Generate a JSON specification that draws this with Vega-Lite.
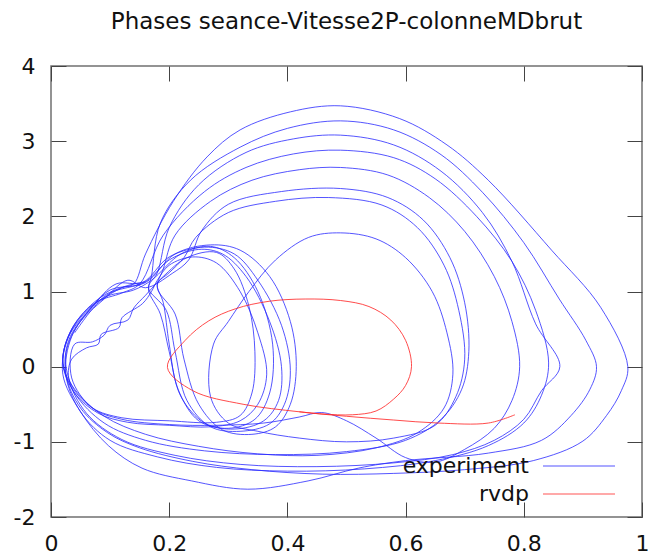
{
  "$schema": "https://vega.github.io/schema/vega-lite/v6.json",
  "width": 591,
  "height": 451,
  "autosize": {"type": "none"},
  "padding": {"left": 51, "top": 66, "right": 6, "bottom": 40},
  "background": "white",
  "title": {"text": "Phases seance-Vitesse2P-colonneMDbrut", "fontSize": 23, "font": "DejaVu Sans", "fontWeight": "normal", "color": "#111", "offset": -2, "baseline": "bottom"},
  "datasets": {
    "exp": [
      {"s":"experiment","i":1,"x":0.04,"y":0.45},{"s":"experiment","i":2,"x":0.08,"y":0.85},{"s":"experiment","i":3,"x":0.12,"y":1.05},
      {"s":"experiment","i":4,"x":0.14,"y":1.1},{"s":"experiment","i":5,"x":0.16,"y":1.5},{"s":"experiment","i":6,"x":0.207,"y":2.2},{"s":"experiment","i":7,"x":0.264,"y":2.79},{"s":"experiment","i":8,"x":0.32,"y":3.15},{"s":"experiment","i":9,"x":0.405,"y":3.39},{"s":"experiment","i":10,"x":0.49,"y":3.47},{"s":"experiment","i":11,"x":0.59,"y":3.3},{"s":"experiment","i":12,"x":0.67,"y":2.95},{"s":"experiment","i":13,"x":0.74,"y":2.48},{"s":"experiment","i":14,"x":0.847,"y":1.55},{"s":"experiment","i":15,"x":0.93,"y":0.79},{"s":"experiment","i":16,"x":0.976,"y":0.0},{"s":"experiment","i":17,"x":0.965,"y":-0.32},{"s":"experiment","i":18,"x":0.94,"y":-0.65},{"s":"experiment","i":19,"x":0.9,"y":-0.99},{"s":"experiment","i":20,"x":0.816,"y":-1.25},{"s":"experiment","i":21,"x":0.7,"y":-1.37},{"s":"experiment","i":22,"x":0.58,"y":-1.42},{"s":"experiment","i":23,"x":0.46,"y":-1.43},{"s":"experiment","i":24,"x":0.34,"y":-1.37},{"s":"experiment","i":25,"x":0.24,"y":-1.26},{"s":"experiment","i":26,"x":0.15,"y":-1.08},{"s":"experiment","i":27,"x":0.096,"y":-0.88},{"s":"experiment","i":28,"x":0.05,"y":-0.55},{"s":"experiment","i":29,"x":0.025,"y":-0.1},{"s":"experiment","i":30,"x":0.03,"y":0.35},{"s":"experiment","i":31,"x":0.065,"y":0.75},{"s":"experiment","i":32,"x":0.1,"y":0.98},
      {"s":"experiment","i":33,"x":0.16,"y":1.13},{"s":"experiment","i":34,"x":0.2,"y":1.42},{"s":"experiment","i":35,"x":0.25,"y":1.56},{"s":"experiment","i":36,"x":0.29,"y":1.5},{"s":"experiment","i":37,"x":0.33,"y":1.2},{"s":"experiment","i":38,"x":0.37,"y":0.6},{"s":"experiment","i":39,"x":0.39,"y":0.0},{"s":"experiment","i":40,"x":0.385,"y":-0.45},{"s":"experiment","i":41,"x":0.36,"y":-0.72},{"s":"experiment","i":42,"x":0.31,"y":-0.83},{"s":"experiment","i":43,"x":0.26,"y":-0.75},{"s":"experiment","i":44,"x":0.22,"y":-0.4},{"s":"experiment","i":45,"x":0.2,"y":0.2},{"s":"experiment","i":46,"x":0.185,"y":0.7},{"s":"experiment","i":47,"x":0.165,"y":1.02},
      {"s":"experiment","i":48,"x":0.17,"y":1.2},{"s":"experiment","i":49,"x":0.185,"y":1.91},{"s":"experiment","i":50,"x":0.236,"y":2.48},{"s":"experiment","i":51,"x":0.32,"y":2.92},{"s":"experiment","i":52,"x":0.4,"y":3.17},{"s":"experiment","i":53,"x":0.49,"y":3.27},{"s":"experiment","i":54,"x":0.58,"y":3.15},{"s":"experiment","i":55,"x":0.66,"y":2.82},{"s":"experiment","i":56,"x":0.73,"y":2.32},{"s":"experiment","i":57,"x":0.8,"y":1.65},{"s":"experiment","i":58,"x":0.86,"y":0.9},{"s":"experiment","i":59,"x":0.905,"y":0.35},{"s":"experiment","i":60,"x":0.923,"y":0.0},{"s":"experiment","i":61,"x":0.912,"y":-0.3},{"s":"experiment","i":62,"x":0.88,"y":-0.65},{"s":"experiment","i":63,"x":0.83,"y":-0.98},{"s":"experiment","i":64,"x":0.74,"y":-1.15},{"s":"experiment","i":65,"x":0.6,"y":-1.25},{"s":"experiment","i":66,"x":0.52,"y":-1.35},{"s":"experiment","i":67,"x":0.435,"y":-1.52},{"s":"experiment","i":68,"x":0.333,"y":-1.63},{"s":"experiment","i":69,"x":0.238,"y":-1.52},{"s":"experiment","i":70,"x":0.154,"y":-1.35},{"s":"experiment","i":71,"x":0.097,"y":-1.05},{"s":"experiment","i":72,"x":0.05,"y":-0.6},{"s":"experiment","i":73,"x":0.02,"y":-0.1},{"s":"experiment","i":74,"x":0.03,"y":0.4},{"s":"experiment","i":75,"x":0.07,"y":0.8},{"s":"experiment","i":76,"x":0.11,"y":1.1},
      {"s":"experiment","i":77,"x":0.155,"y":1.12},{"s":"experiment","i":78,"x":0.2,"y":1.46},{"s":"experiment","i":79,"x":0.26,"y":1.59},{"s":"experiment","i":80,"x":0.31,"y":1.5},{"s":"experiment","i":81,"x":0.35,"y":1.15},{"s":"experiment","i":82,"x":0.39,"y":0.55},{"s":"experiment","i":83,"x":0.405,"y":-0.05},{"s":"experiment","i":84,"x":0.395,"y":-0.5},{"s":"experiment","i":85,"x":0.37,"y":-0.76},{"s":"experiment","i":86,"x":0.32,"y":-0.86},{"s":"experiment","i":87,"x":0.27,"y":-0.8},{"s":"experiment","i":88,"x":0.23,"y":-0.45},{"s":"experiment","i":89,"x":0.21,"y":0.2},{"s":"experiment","i":90,"x":0.195,"y":0.75},{"s":"experiment","i":91,"x":0.165,"y":1.05},
      {"s":"experiment","i":92,"x":0.18,"y":1.25},{"s":"experiment","i":93,"x":0.2,"y":1.85},{"s":"experiment","i":94,"x":0.25,"y":2.42},{"s":"experiment","i":95,"x":0.33,"y":2.85},{"s":"experiment","i":96,"x":0.41,"y":3.03},{"s":"experiment","i":97,"x":0.49,"y":3.08},{"s":"experiment","i":98,"x":0.58,"y":2.95},{"s":"experiment","i":99,"x":0.66,"y":2.6},{"s":"experiment","i":100,"x":0.73,"y":2.05},{"s":"experiment","i":101,"x":0.78,"y":1.4},{"s":"experiment","i":102,"x":0.82,"y":0.57},{"s":"experiment","i":103,"x":0.861,"y":0.0},{"s":"experiment","i":104,"x":0.83,"y":-0.32},{"s":"experiment","i":105,"x":0.8,"y":-0.7},{"s":"experiment","i":106,"x":0.75,"y":-0.98},{"s":"experiment","i":107,"x":0.68,"y":-1.17},{"s":"experiment","i":108,"x":0.58,"y":-1.28},{"s":"experiment","i":109,"x":0.45,"y":-1.33},{"s":"experiment","i":110,"x":0.32,"y":-1.3},{"s":"experiment","i":111,"x":0.21,"y":-1.18},{"s":"experiment","i":112,"x":0.12,"y":-0.97},{"s":"experiment","i":113,"x":0.06,"y":-0.62},{"s":"experiment","i":114,"x":0.03,"y":-0.15},{"s":"experiment","i":115,"x":0.035,"y":0.1},{"s":"experiment","i":116,"x":0.06,"y":0.25},{"s":"experiment","i":117,"x":0.08,"y":0.3},{"s":"experiment","i":118,"x":0.085,"y":0.43},{"s":"experiment","i":119,"x":0.115,"y":0.52},{"s":"experiment","i":120,"x":0.12,"y":0.65},{"s":"experiment","i":121,"x":0.155,"y":0.84},{"s":"experiment","i":122,"x":0.17,"y":1.0},
      {"s":"experiment","i":123,"x":0.18,"y":1.15},{"s":"experiment","i":124,"x":0.2,"y":1.35},{"s":"experiment","i":125,"x":0.24,"y":1.46},{"s":"experiment","i":126,"x":0.28,"y":1.38},{"s":"experiment","i":127,"x":0.32,"y":1.0},{"s":"experiment","i":128,"x":0.35,"y":0.45},{"s":"experiment","i":129,"x":0.365,"y":-0.1},{"s":"experiment","i":130,"x":0.35,"y":-0.5},{"s":"experiment","i":131,"x":0.32,"y":-0.72},{"s":"experiment","i":132,"x":0.27,"y":-0.8},{"s":"experiment","i":133,"x":0.2,"y":-0.78},{"s":"experiment","i":134,"x":0.13,"y":-0.74},{"s":"experiment","i":135,"x":0.08,"y":-0.62},{"s":"experiment","i":136,"x":0.04,"y":-0.35},{"s":"experiment","i":137,"x":0.02,"y":0.05},{"s":"experiment","i":138,"x":0.035,"y":0.5},{"s":"experiment","i":139,"x":0.075,"y":0.85},{"s":"experiment","i":140,"x":0.12,"y":0.98},
      {"s":"experiment","i":141,"x":0.15,"y":1.1},{"s":"experiment","i":142,"x":0.19,"y":1.75},{"s":"experiment","i":143,"x":0.26,"y":2.33},{"s":"experiment","i":144,"x":0.33,"y":2.65},{"s":"experiment","i":145,"x":0.41,"y":2.83},{"s":"experiment","i":146,"x":0.49,"y":2.88},{"s":"experiment","i":147,"x":0.58,"y":2.78},{"s":"experiment","i":148,"x":0.65,"y":2.5},{"s":"experiment","i":149,"x":0.72,"y":2.0},{"s":"experiment","i":150,"x":0.78,"y":1.4},{"s":"experiment","i":151,"x":0.82,"y":0.75},{"s":"experiment","i":152,"x":0.842,"y":0.05},{"s":"experiment","i":153,"x":0.83,"y":-0.38},{"s":"experiment","i":154,"x":0.8,"y":-0.75},{"s":"experiment","i":155,"x":0.74,"y":-1.05},{"s":"experiment","i":156,"x":0.65,"y":-1.25},{"s":"experiment","i":157,"x":0.53,"y":-1.36},{"s":"experiment","i":158,"x":0.4,"y":-1.39},{"s":"experiment","i":159,"x":0.28,"y":-1.34},{"s":"experiment","i":160,"x":0.18,"y":-1.2},{"s":"experiment","i":161,"x":0.1,"y":-0.98},{"s":"experiment","i":162,"x":0.05,"y":-0.6},{"s":"experiment","i":163,"x":0.025,"y":-0.1},{"s":"experiment","i":164,"x":0.035,"y":0.4},{"s":"experiment","i":165,"x":0.07,"y":0.8},{"s":"experiment","i":166,"x":0.1,"y":1.02},
      {"s":"experiment","i":167,"x":0.16,"y":1.12},{"s":"experiment","i":168,"x":0.21,"y":1.5},{"s":"experiment","i":169,"x":0.27,"y":1.62},{"s":"experiment","i":170,"x":0.32,"y":1.55},{"s":"experiment","i":171,"x":0.37,"y":1.2},{"s":"experiment","i":172,"x":0.405,"y":0.6},{"s":"experiment","i":173,"x":0.415,"y":0.0},{"s":"experiment","i":174,"x":0.405,"y":-0.5},{"s":"experiment","i":175,"x":0.38,"y":-0.8},{"s":"experiment","i":176,"x":0.34,"y":-0.9},{"s":"experiment","i":177,"x":0.29,"y":-0.84},{"s":"experiment","i":178,"x":0.25,"y":-0.5},{"s":"experiment","i":179,"x":0.225,"y":0.1},{"s":"experiment","i":180,"x":0.21,"y":0.7},{"s":"experiment","i":181,"x":0.18,"y":1.05},
      {"s":"experiment","i":182,"x":0.19,"y":1.3},{"s":"experiment","i":183,"x":0.21,"y":1.75},{"s":"experiment","i":184,"x":0.27,"y":2.2},{"s":"experiment","i":185,"x":0.34,"y":2.48},{"s":"experiment","i":186,"x":0.42,"y":2.62},{"s":"experiment","i":187,"x":0.49,"y":2.65},{"s":"experiment","i":188,"x":0.57,"y":2.55},{"s":"experiment","i":189,"x":0.64,"y":2.25},{"s":"experiment","i":190,"x":0.7,"y":1.8},{"s":"experiment","i":191,"x":0.75,"y":1.2},{"s":"experiment","i":192,"x":0.78,"y":0.6},{"s":"experiment","i":193,"x":0.793,"y":0.0},{"s":"experiment","i":194,"x":0.78,"y":-0.45},{"s":"experiment","i":195,"x":0.75,"y":-0.82},{"s":"experiment","i":196,"x":0.7,"y":-1.1},{"s":"experiment","i":197,"x":0.65,"y":-1.27},{"s":"experiment","i":198,"x":0.6,"y":-1.21},{"s":"experiment","i":199,"x":0.55,"y":-0.95},{"s":"experiment","i":200,"x":0.5,"y":-0.72},{"s":"experiment","i":201,"x":0.458,"y":-0.61},{"s":"experiment","i":202,"x":0.42,"y":-0.67},{"s":"experiment","i":203,"x":0.36,"y":-0.75},{"s":"experiment","i":204,"x":0.28,"y":-0.78},{"s":"experiment","i":205,"x":0.2,"y":-0.77},{"s":"experiment","i":206,"x":0.12,"y":-0.7},{"s":"experiment","i":207,"x":0.07,"y":-0.55},{"s":"experiment","i":208,"x":0.035,"y":-0.15},{"s":"experiment","i":209,"x":0.04,"y":0.3},{"s":"experiment","i":210,"x":0.07,"y":0.33},{"s":"experiment","i":211,"x":0.09,"y":0.42},{"s":"experiment","i":212,"x":0.1,"y":0.55},{"s":"experiment","i":213,"x":0.13,"y":0.62},{"s":"experiment","i":214,"x":0.14,"y":0.78},{"s":"experiment","i":215,"x":0.16,"y":0.95},
      {"s":"experiment","i":216,"x":0.19,"y":1.2},{"s":"experiment","i":217,"x":0.23,"y":1.45},{"s":"experiment","i":218,"x":0.28,"y":1.52},{"s":"experiment","i":219,"x":0.31,"y":1.3},{"s":"experiment","i":220,"x":0.335,"y":0.8},{"s":"experiment","i":221,"x":0.345,"y":0.2},{"s":"experiment","i":222,"x":0.34,"y":-0.35},{"s":"experiment","i":223,"x":0.32,"y":-0.65},{"s":"experiment","i":224,"x":0.28,"y":-0.74},{"s":"experiment","i":225,"x":0.2,"y":-0.72},{"s":"experiment","i":226,"x":0.12,"y":-0.68},{"s":"experiment","i":227,"x":0.07,"y":-0.55},{"s":"experiment","i":228,"x":0.035,"y":-0.25},{"s":"experiment","i":229,"x":0.025,"y":0.15},{"s":"experiment","i":230,"x":0.045,"y":0.55},{"s":"experiment","i":231,"x":0.09,"y":0.9},{"s":"experiment","i":232,"x":0.13,"y":1.15},
      {"s":"experiment","i":233,"x":0.16,"y":1.05},{"s":"experiment","i":234,"x":0.205,"y":1.24},{"s":"experiment","i":235,"x":0.233,"y":1.42},{"s":"experiment","i":236,"x":0.255,"y":1.81},{"s":"experiment","i":237,"x":0.3,"y":2.16},{"s":"experiment","i":238,"x":0.39,"y":2.33},{"s":"experiment","i":239,"x":0.49,"y":2.37},{"s":"experiment","i":240,"x":0.57,"y":2.25},{"s":"experiment","i":241,"x":0.63,"y":1.95},{"s":"experiment","i":242,"x":0.675,"y":1.45},{"s":"experiment","i":243,"x":0.7,"y":0.85},{"s":"experiment","i":244,"x":0.707,"y":0.2},{"s":"experiment","i":245,"x":0.695,"y":-0.3},{"s":"experiment","i":246,"x":0.66,"y":-0.7},{"s":"experiment","i":247,"x":0.6,"y":-0.98},{"s":"experiment","i":248,"x":0.5,"y":-1.13},{"s":"experiment","i":249,"x":0.38,"y":-1.17},{"s":"experiment","i":250,"x":0.26,"y":-1.12},{"s":"experiment","i":251,"x":0.16,"y":-0.98},{"s":"experiment","i":252,"x":0.09,"y":-0.75},{"s":"experiment","i":253,"x":0.04,"y":-0.35},{"s":"experiment","i":254,"x":0.02,"y":0.1},{"s":"experiment","i":255,"x":0.04,"y":0.55},{"s":"experiment","i":256,"x":0.09,"y":0.92},{"s":"experiment","i":257,"x":0.14,"y":1.02},
      {"s":"experiment","i":258,"x":0.17,"y":1.15},{"s":"experiment","i":259,"x":0.22,"y":1.5},{"s":"experiment","i":260,"x":0.27,"y":1.6},{"s":"experiment","i":261,"x":0.31,"y":1.45},{"s":"experiment","i":262,"x":0.35,"y":1.0},{"s":"experiment","i":263,"x":0.375,"y":0.3},{"s":"experiment","i":264,"x":0.37,"y":-0.35},{"s":"experiment","i":265,"x":0.345,"y":-0.7},{"s":"experiment","i":266,"x":0.3,"y":-0.82},{"s":"experiment","i":267,"x":0.25,"y":-0.72},{"s":"experiment","i":268,"x":0.215,"y":-0.3},{"s":"experiment","i":269,"x":0.2,"y":0.3},{"s":"experiment","i":270,"x":0.19,"y":0.85},{"s":"experiment","i":271,"x":0.18,"y":1.1},
      {"s":"experiment","i":272,"x":0.2,"y":1.25},{"s":"experiment","i":273,"x":0.225,"y":1.45},{"s":"experiment","i":274,"x":0.245,"y":1.72},{"s":"experiment","i":275,"x":0.3,"y":2.05},{"s":"experiment","i":276,"x":0.38,"y":2.2},{"s":"experiment","i":277,"x":0.47,"y":2.25},{"s":"experiment","i":278,"x":0.56,"y":2.15},{"s":"experiment","i":279,"x":0.62,"y":1.85},{"s":"experiment","i":280,"x":0.665,"y":1.35},{"s":"experiment","i":281,"x":0.69,"y":0.75},{"s":"experiment","i":282,"x":0.7,"y":0.1},{"s":"experiment","i":283,"x":0.685,"y":-0.4},{"s":"experiment","i":284,"x":0.65,"y":-0.78},{"s":"experiment","i":285,"x":0.58,"y":-0.95},{"s":"experiment","i":286,"x":0.5,"y":-1.0},{"s":"experiment","i":287,"x":0.42,"y":-0.95},{"s":"experiment","i":288,"x":0.35,"y":-0.86},{"s":"experiment","i":289,"x":0.3,"y":-0.75},{"s":"experiment","i":290,"x":0.27,"y":-0.4},{"s":"experiment","i":291,"x":0.275,"y":0.3},{"s":"experiment","i":292,"x":0.3,"y":0.6},{"s":"experiment","i":293,"x":0.335,"y":1.0},{"s":"experiment","i":294,"x":0.38,"y":1.42},{"s":"experiment","i":295,"x":0.436,"y":1.72},{"s":"experiment","i":296,"x":0.49,"y":1.78},{"s":"experiment","i":297,"x":0.55,"y":1.7},{"s":"experiment","i":298,"x":0.6,"y":1.45},{"s":"experiment","i":299,"x":0.645,"y":1.0},{"s":"experiment","i":300,"x":0.67,"y":0.45},{"s":"experiment","i":301,"x":0.68,"y":-0.1},{"s":"experiment","i":302,"x":0.665,"y":-0.55},{"s":"experiment","i":303,"x":0.62,"y":-0.88},{"s":"experiment","i":304,"x":0.55,"y":-1.08},{"s":"experiment","i":305,"x":0.45,"y":-1.18},{"s":"experiment","i":306,"x":0.35,"y":-1.16},{"s":"experiment","i":307,"x":0.25,"y":-1.06},{"s":"experiment","i":308,"x":0.16,"y":-0.9},{"s":"experiment","i":309,"x":0.09,"y":-0.66},{"s":"experiment","i":310,"x":0.04,"y":-0.3},{"s":"experiment","i":311,"x":0.02,"y":0.05},{"s":"experiment","i":312,"x":0.035,"y":0.5},{"s":"experiment","i":313,"x":0.08,"y":0.9},{"s":"experiment","i":314,"x":0.13,"y":1.08},{"s":"experiment","i":315,"x":0.16,"y":1.13}
    ],
    "rvdp": [
      {"s":"rvdp","i":1,"x":0.785,"y":-0.64},{"s":"rvdp","i":2,"x":0.74,"y":-0.75},{"s":"rvdp","i":3,"x":0.655,"y":-0.75},{"s":"rvdp","i":4,"x":0.58,"y":-0.71},{"s":"rvdp","i":5,"x":0.5,"y":-0.66},{"s":"rvdp","i":6,"x":0.42,"y":-0.6},{"s":"rvdp","i":7,"x":0.325,"y":-0.5},{"s":"rvdp","i":8,"x":0.24,"y":-0.32},{"s":"rvdp","i":9,"x":0.197,"y":-0.01},{"s":"rvdp","i":10,"x":0.227,"y":0.35},{"s":"rvdp","i":11,"x":0.267,"y":0.61},{"s":"rvdp","i":12,"x":0.312,"y":0.77},{"s":"rvdp","i":13,"x":0.369,"y":0.87},{"s":"rvdp","i":14,"x":0.43,"y":0.9},{"s":"rvdp","i":15,"x":0.49,"y":0.88},{"s":"rvdp","i":16,"x":0.538,"y":0.8},{"s":"rvdp","i":17,"x":0.575,"y":0.62},{"s":"rvdp","i":18,"x":0.6,"y":0.35},{"s":"rvdp","i":19,"x":0.61,"y":0.0},{"s":"rvdp","i":20,"x":0.6,"y":-0.25},{"s":"rvdp","i":21,"x":0.58,"y":-0.43},{"s":"rvdp","i":22,"x":0.55,"y":-0.59},{"s":"rvdp","i":23,"x":0.51,"y":-0.64},{"s":"rvdp","i":24,"x":0.46,"y":-0.63},{"s":"rvdp","i":25,"x":0.42,"y":-0.6}
    ]
  },
  "layer": [
    {
      "data": {"name": "exp"},
      "mark": {"type": "line", "interpolate": "catmull-rom", "strokeWidth": 1, "opacity": 0.8},
      "encoding": {
        "x": {"field": "x", "type": "quantitative", "scale": {"domain": [0, 1], "nice": false, "zero": false},
              "axis": {"orient": "bottom", "values": [0, 0.2, 0.4, 0.6, 0.8, 1], "labelExpr": "'' + datum.value", "labelPadding": 31}},
        "y": {"field": "y", "type": "quantitative", "scale": {"domain": [-2, 4], "nice": false, "zero": false},
              "axis": {"orient": "left", "values": [-2, -1, 0, 1, 2, 3, 4], "labelExpr": "'' + datum.value", "labelPadding": 31}},
        "order": {"field": "i", "type": "quantitative"},
        "color": {"field": "s", "type": "nominal", "scale": {"domain": ["experiment", "rvdp"], "range": ["#2b2bff", "#ff2b2b"]},
                  "legend": {"orient": "none", "legendX": 515, "legendY": 387, "title": null, "symbolType": "M-3,0H3", "symbolSize": 576, "symbolStrokeWidth": 1.2, "labelFontSize": 22, "labelFont": "DejaVu Sans", "labelColor": "#111", "labelAlign": "right", "labelOffset": -63, "rowPadding": 4, "padding": 0}}
      }
    },
    {
      "data": {"name": "rvdp"},
      "mark": {"type": "line", "interpolate": "catmull-rom", "strokeWidth": 1, "opacity": 0.85},
      "encoding": {
        "x": {"field": "x", "type": "quantitative", "axis": {"orient": "top", "values": [0, 0.2, 0.4, 0.6, 0.8, 1], "labels": false}},
        "y": {"field": "y", "type": "quantitative", "axis": {"orient": "right", "values": [-2, -1, 0, 1, 2, 3, 4], "labels": false}},
        "order": {"field": "i", "type": "quantitative"},
        "color": {"field": "s", "type": "nominal"}
      }
    }
  ],
  "resolve": {"axis": {"x": "independent", "y": "independent"}},
  "config": {
    "view": {"stroke": "#707070", "strokeWidth": 1.5},
    "axis": {"grid": false, "domain": false, "title": null, "labelFont": "DejaVu Sans", "labelFontSize": 22, "labelColor": "#111", "tickColor": "#444", "tickSize": -15, "tickWidth": 1, "labelFlush": false, "labelOverlap": false}
  }
}
